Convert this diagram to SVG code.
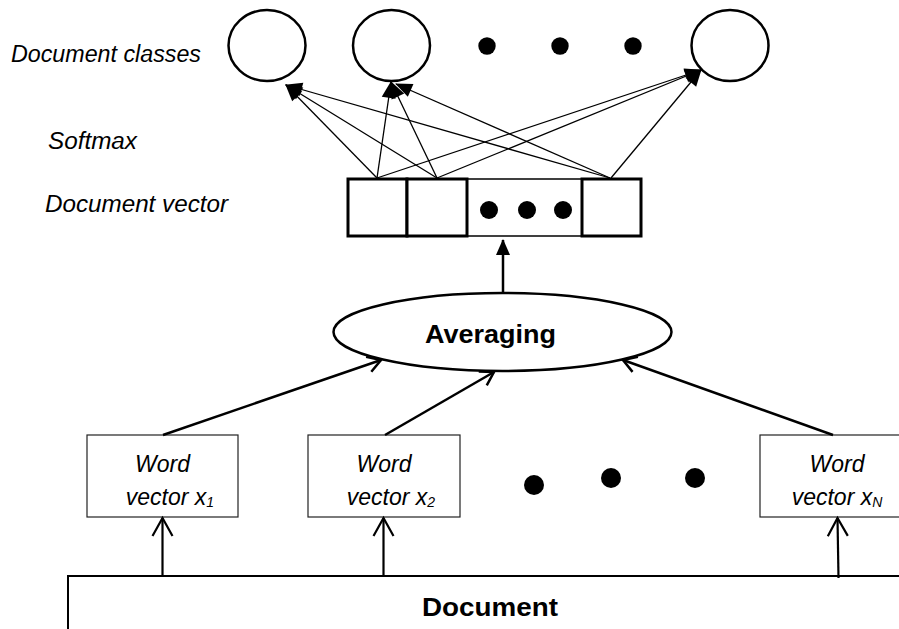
<svg xmlns="http://www.w3.org/2000/svg" width="899" height="629" viewBox="0 0 899 629">
<style>
  .lbl { font-family: "Liberation Sans", Arial, sans-serif; font-style: italic; font-size: 23px; fill: #000; }
  .bold { font-family: "Liberation Sans", Arial, sans-serif; font-weight: bold; font-size: 26px; fill: #000; }
  .node { fill: #fff; stroke: #000; stroke-width: 2.5; }
  .wbox { fill: #fff; stroke: #222; stroke-width: 1.2; }
  .thick { fill: #fff; stroke: #000; stroke-width: 3; }
  .thin { fill: #fff; stroke: #000; stroke-width: 1.5; }
  .dot { fill: #000; }
  .sm { stroke: #000; stroke-width: 1.3; fill: none; marker-end: url(#fill); }
  .up { stroke: #000; stroke-width: 2.5; fill: none; marker-end: url(#open); }
  .upb { stroke: #000; stroke-width: 2.2; fill: none; marker-end: url(#openbig); }
</style>
<defs>
  <marker id="fill" markerUnits="userSpaceOnUse" markerWidth="17" markerHeight="14" refX="16" refY="7" orient="auto" overflow="visible">
    <path d="M0,0 L17,7 L0,14 z" fill="#000"/>
  </marker>
  <marker id="fillv" markerUnits="userSpaceOnUse" markerWidth="16" markerHeight="14" refX="15" refY="7" orient="auto" overflow="visible">
    <path d="M0,0 L16,7 L0,14 z" fill="#000"/>
  </marker>
  <marker id="open" markerUnits="userSpaceOnUse" markerWidth="14" markerHeight="16" refX="13" refY="8" orient="auto" overflow="visible">
    <path d="M0,0 L13,8 L0,16" fill="none" stroke="#000" stroke-width="2.5"/>
  </marker>
  <marker id="openbig" markerUnits="userSpaceOnUse" markerWidth="19" markerHeight="20" refX="18" refY="10" orient="auto" overflow="visible">
    <path d="M0,0 L18,10 L0,20" fill="none" stroke="#000" stroke-width="2.2"/>
  </marker>
</defs>

<g id="labels">
  <text class="lbl" x="11" y="62" textLength="190" lengthAdjust="spacingAndGlyphs">Document classes</text>
  <text class="lbl" x="48" y="149" textLength="89" lengthAdjust="spacingAndGlyphs">Softmax</text>
  <text class="lbl" x="45" y="212" textLength="183" lengthAdjust="spacingAndGlyphs">Document vector</text>
</g>

<g id="class1"><ellipse class="node" cx="267" cy="45.5" rx="38.5" ry="35.5"/></g>
<g id="class2"><ellipse class="node" cx="391.5" cy="45.5" rx="38.5" ry="35.5"/></g>
<g id="class-dots">
  <circle class="dot" cx="487" cy="46" r="8.7"/>
  <circle class="dot" cx="560" cy="46" r="8.7"/>
  <circle class="dot" cx="633" cy="46" r="8.7"/>
</g>
<g id="classN"><ellipse class="node" cx="730" cy="45.5" rx="38.5" ry="35.5"/></g>

<g id="docvector">
  <rect class="thin" x="467" y="179" width="115" height="57"/>
  <rect class="thick" x="348" y="179" width="59" height="57"/>
  <rect class="thick" x="407" y="179" width="60" height="57"/>
  <rect class="thick" x="582" y="179" width="59" height="57"/>
  <circle class="dot" cx="489" cy="210" r="9"/>
  <circle class="dot" cx="527" cy="210" r="9"/>
  <circle class="dot" cx="563" cy="210" r="9"/>
</g>

<g id="averaging">
  <ellipse class="node" cx="502.5" cy="332" rx="169" ry="39"/>
  <text class="bold" x="490.5" y="343" textLength="131" lengthAdjust="spacingAndGlyphs" text-anchor="middle">Averaging</text>
</g>

<g id="word1">
  <rect class="wbox" x="87" y="435" width="151" height="82"/>
  <text class="lbl" x="162.5" y="472" text-anchor="middle">Word</text>
  <text class="lbl" x="170" y="505" text-anchor="middle">vector x<tspan font-size="14" dy="2">1</tspan></text>
</g>
<g id="word2">
  <rect class="wbox" x="308" y="435" width="152" height="82"/>
  <text class="lbl" x="384" y="472" text-anchor="middle">Word</text>
  <text class="lbl" x="391" y="505" text-anchor="middle">vector x<tspan font-size="14" dy="2">2</tspan></text>
</g>
<g id="word-dots">
  <circle class="dot" cx="534" cy="485" r="10"/>
  <circle class="dot" cx="611" cy="478" r="10"/>
  <circle class="dot" cx="695" cy="478" r="10"/>
</g>
<g id="wordN">
  <rect class="wbox" x="760" y="435" width="160" height="82"/>
  <text class="lbl" x="837" y="472" text-anchor="middle">Word</text>
  <text class="lbl" x="837" y="505" text-anchor="middle">vector x<tspan font-size="14" dy="2">N</tspan></text>
</g>

<g id="document">
  <rect x="68" y="576" width="900" height="100" fill="#fff" stroke="#000" stroke-width="2"/>
  <text class="bold" x="490" y="616" text-anchor="middle" textLength="136" lengthAdjust="spacingAndGlyphs">Document</text>
</g>

<g id="connectors">
  <line class="sm" x1="377" y1="178" x2="286" y2="85"/>
  <line class="sm" x1="437" y1="178" x2="286" y2="85"/>
  <line class="sm" x1="610" y1="178" x2="286" y2="85"/>
  <line class="sm" x1="377" y1="178" x2="391" y2="82"/>
  <line class="sm" x1="437" y1="178" x2="391" y2="82"/>
  <line class="sm" x1="610" y1="178" x2="396" y2="84"/>
  <line class="sm" x1="377" y1="178" x2="701" y2="70"/>
  <line class="sm" x1="437" y1="178" x2="701" y2="70"/>
  <line class="sm" x1="611" y1="178" x2="701" y2="70"/>
  <line x1="503" y1="293" x2="503" y2="240" stroke="#000" stroke-width="2.5" marker-end="url(#fillv)"/>
  <line class="up" x1="163" y1="435" x2="381" y2="360"/>
  <line class="up" x1="385" y1="435" x2="494" y2="372"/>
  <line class="up" x1="833" y1="435" x2="623" y2="360"/>
  <line class="upb" x1="162.5" y1="576" x2="162.5" y2="518"/>
  <line class="upb" x1="383.5" y1="576" x2="383.5" y2="518"/>
  <line class="upb" x1="838.5" y1="578" x2="837.5" y2="518"/>
</g>
</svg>
